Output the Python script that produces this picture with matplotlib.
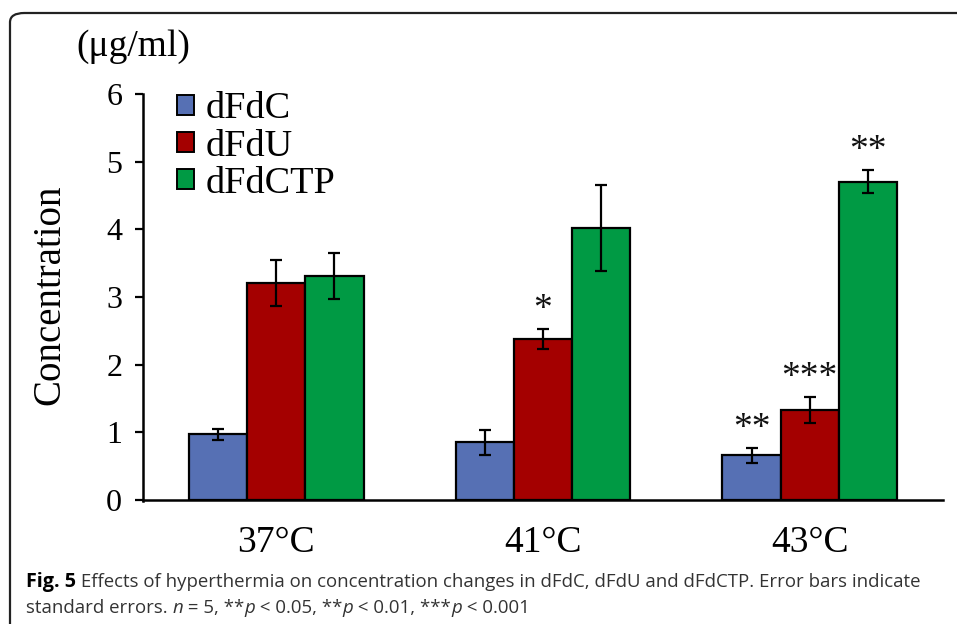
import matplotlib
matplotlib.use("Agg")
import matplotlib.pyplot as plt
from matplotlib.patches import FancyBboxPatch, Patch
import numpy as np

# ---- data ----
groups = ["37°C", "41°C", "43°C"]
series = ["dFdC", "dFdU", "dFdCTP"]
dFdC = [0.97, 0.85, 0.66]
dFdC_err = [0.08, 0.19, 0.11]
dFdU = [3.20, 2.38, 1.33]
dFdU_err = [0.34, 0.15, 0.19]
dFdCTP = [3.31, 4.02, 4.70]
dFdCTP_err = [0.34, 0.63, 0.17]
# significance marks: (series index, group index, label)
marks = [(1, 1, "*"), (0, 2, "**"), (1, 2, "***"), (2, 2, "**")]
yticks = [0, 1, 2, 3, 4, 5, 6]

colors = ["#5670b4", "#a40000", "#009a44"]
values = [dFdC, dFdU, dFdCTP]
errors = [dFdC_err, dFdU_err, dFdCTP_err]

W, H = 957, 624
fig = plt.figure(figsize=(W / 100, H / 100), dpi=100)
serif = ["Liberation Serif", "DejaVu Serif"]

# frame (rounded border, open to the right and bottom)
border = FancyBboxPatch((10 / W, -0.2), 1.2, 1.2 - 13 / H,
                        boxstyle="round,pad=0,rounding_size=0.015",
                        transform=fig.transFigure, fill=False,
                        edgecolor="#222222", linewidth=1.6)
fig.patches.append(border)

ax = fig.add_axes([143 / W, 1 - 500 / H, 800 / W, 406 / H])
x = np.arange(len(groups))
w = 0.218
for i, (vals, errs, col) in enumerate(zip(values, errors, colors)):
    ax.bar(x + (i - 1) * w, vals, width=w, color=col, edgecolor="black",
           linewidth=1.6, zorder=2)
    ax.errorbar(x + (i - 1) * w, vals, yerr=errs, fmt="none", ecolor="black",
                elinewidth=1.6, capsize=4.5, capthick=1.6, zorder=3)

for si, gi, lab in marks:
    top = values[si][gi] + errors[si][gi]
    ax.text(x[gi] + (si - 1) * w, top + 0.03, lab, ha="center", va="bottom",
            fontsize=27, family=serif, color="#111111")

ax.set_xlim(-0.5, 2.5)
ax.set_ylim(0, 6)
ax.set_yticks(yticks)
ax.set_yticklabels([str(t) for t in yticks], family=serif, fontsize=23)
ax.set_xticks(x)
ax.set_xticklabels(groups, family=serif, fontsize=27)
ax.tick_params(axis="x", length=0, pad=18)
ax.tick_params(axis="y", length=6, width=1.6, direction="out", pad=9)
for s in ["top", "right"]:
    ax.spines[s].set_visible(False)
ax.spines["left"].set_linewidth(1.8)
ax.spines["bottom"].set_linewidth(1.8)
ax.spines["left"].set_bounds(-0.02, 6)

handles = [Patch(facecolor=c, edgecolor="black", linewidth=1.4) for c in colors]
leg = ax.legend(handles, series, loc="upper left", bbox_to_anchor=(0.0425, 1.005),
                frameon=False, prop={"family": serif, "size": 27.5},
                handlelength=0.45, handleheight=0.45, handletextpad=0.3,
                labelspacing=0.07, borderaxespad=0, borderpad=0)

fig.text(133 / W, 1 - 47 / H, "(μg/ml)", ha="center", va="center",
         family=serif, fontsize=27)
fig.text(50 / W, 1 - 295 / H, "Concentration", ha="center", va="center",
         rotation=90, family=serif, fontsize=28)

# caption
renderer = fig.canvas.get_renderer()
def write_line(parts, x0, y0):
    xx = x0
    for txt, kw in parts:
        t = fig.text(xx / W, 1 - y0 / H, txt, ha="left", va="baseline",
                     family=["Open Sans", "DejaVu Sans"], **kw)
        bb = t.get_window_extent(renderer=renderer)
        xx += bb.width

reg = {"color": "#333333", "fontsize": 13.4}
ita = {"color": "#333333", "style": "italic", "fontsize": 13.4}
write_line([("Fig. 5", {"color": "black", "weight": "bold", "fontsize": 14.2}),
            (" Effects of hyperthermia on concentration changes in dFdC, dFdU and dFdCTP. Error bars indicate", reg)],
           26, 587)
write_line([("standard errors. ", reg), ("n", ita), (" = 5, **", reg), ("p", ita),
            (" < 0.05, **", reg), ("p", ita), (" < 0.01, ***", reg), ("p", ita),
            (" < 0.001", reg)], 26, 613)

fig.savefig("out.png", dpi=100)
